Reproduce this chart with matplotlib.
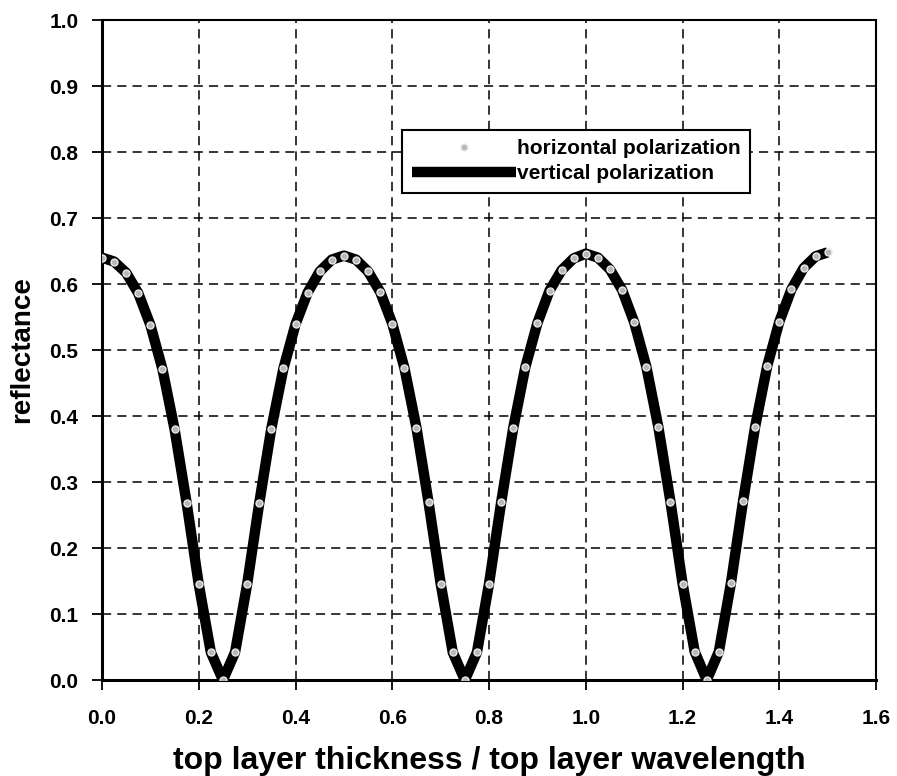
"""Thin-film reflectance vs. top layer thickness, both polarizations."""

import matplotlib
matplotlib.use("Agg")
import matplotlib.pyplot as plt
import numpy as np

# thickness / wavelength, sampled every 0.025 from 0 to 1.5
thickness = np.linspace(0.0, 1.5, 61)

horiz_refl = [
    0.640, 0.634, 0.617, 0.586, 0.538, 0.471, 0.380, 0.268, 0.145, 0.042,
    0.000, 0.042, 0.145, 0.268, 0.381, 0.472, 0.539, 0.587, 0.619, 0.637,
    0.643, 0.637, 0.619, 0.588, 0.540, 0.473, 0.382, 0.269, 0.146, 0.042,
    0.000, 0.042, 0.146, 0.269, 0.382, 0.474, 0.541, 0.590, 0.621, 0.639,
    0.646, 0.640, 0.622, 0.591, 0.542, 0.475, 0.383, 0.270, 0.146, 0.043,
    0.000, 0.043, 0.147, 0.271, 0.384, 0.476, 0.543, 0.592, 0.624, 0.642,
    0.648,
]
vert_refl = [
    0.640, 0.634, 0.617, 0.586, 0.538, 0.471, 0.380, 0.268, 0.145, 0.042,
    0.000, 0.042, 0.145, 0.268, 0.381, 0.472, 0.539, 0.587, 0.619, 0.637,
    0.643, 0.637, 0.619, 0.588, 0.540, 0.473, 0.382, 0.269, 0.146, 0.042,
    0.000, 0.042, 0.146, 0.269, 0.382, 0.474, 0.541, 0.590, 0.621, 0.639,
    0.646, 0.640, 0.622, 0.591, 0.542, 0.475, 0.383, 0.270, 0.146, 0.043,
    0.000, 0.043, 0.147, 0.271, 0.384, 0.476, 0.543, 0.592, 0.624, 0.642,
    0.648,
]

x_ticks = [0.0, 0.2, 0.4, 0.6, 0.8, 1.0, 1.2, 1.4, 1.6]
y_ticks = [0.0, 0.1, 0.2, 0.3, 0.4, 0.5, 0.6, 0.7, 0.8, 0.9, 1.0]

plt.rcParams["font.family"] = ["Liberation Sans", "DejaVu Sans"]
plt.rcParams["font.weight"] = "bold"

fig = plt.figure(figsize=(8.97, 7.76), dpi=100)
ax = fig.add_axes([0.1137, 0.1237, 0.863, 0.8505])

ax.plot(thickness, vert_refl, color="black", lw=7.5, solid_capstyle="butt",
        label="vertical polarization", zorder=3)
ax.plot(thickness, horiz_refl, ls="none", marker="o", ms=5,
        mfc="#b8b8b8", mec="#e8e8e8", mew=1.0,
        label="horizontal polarization", zorder=4)

ax.set_xlim(0, 1.6)
ax.set_ylim(0, 1.0)
ax.set_xticks(x_ticks)
ax.set_yticks(y_ticks)
ax.set_xticklabels([f"{v:.1f}" for v in x_ticks], fontsize=15, fontweight="bold")
ax.set_yticklabels([f"{v:.1f}" for v in y_ticks], fontsize=15, fontweight="bold")
ax.tick_params(axis="both", direction="out", length=7, width=1.3, color="black")
ax.tick_params(axis="x", pad=14)
ax.tick_params(axis="y", pad=10)

ax.grid(True, color="black", ls=(0, (6, 4)), lw=1.1)
ax.set_axisbelow(True)

for side in ("left", "bottom"):
    ax.spines[side].set_linewidth(2.2)
for side in ("top", "right"):
    ax.spines[side].set_linewidth(1.5)

ax.set_xlabel("top layer thickness / top layer wavelength", fontsize=23,
              fontweight="bold", labelpad=13)
ax.set_ylabel("reflectance", fontsize=20, fontweight="bold", labelpad=10)

handles, labels = ax.get_legend_handles_labels()
leg = ax.legend(handles[::-1], labels[::-1], loc="upper left",
                bbox_to_anchor=(0.388, 0.834), fontsize=15, frameon=True,
                fancybox=False, handlelength=5.0, handletextpad=0.05,
                labelspacing=0.3, borderpad=0.45, borderaxespad=0)
leg.get_frame().set_edgecolor("black")
leg.get_frame().set_linewidth(1.5)
leg.get_frame().set_alpha(1)

fig.savefig("out.png", dpi=100)
